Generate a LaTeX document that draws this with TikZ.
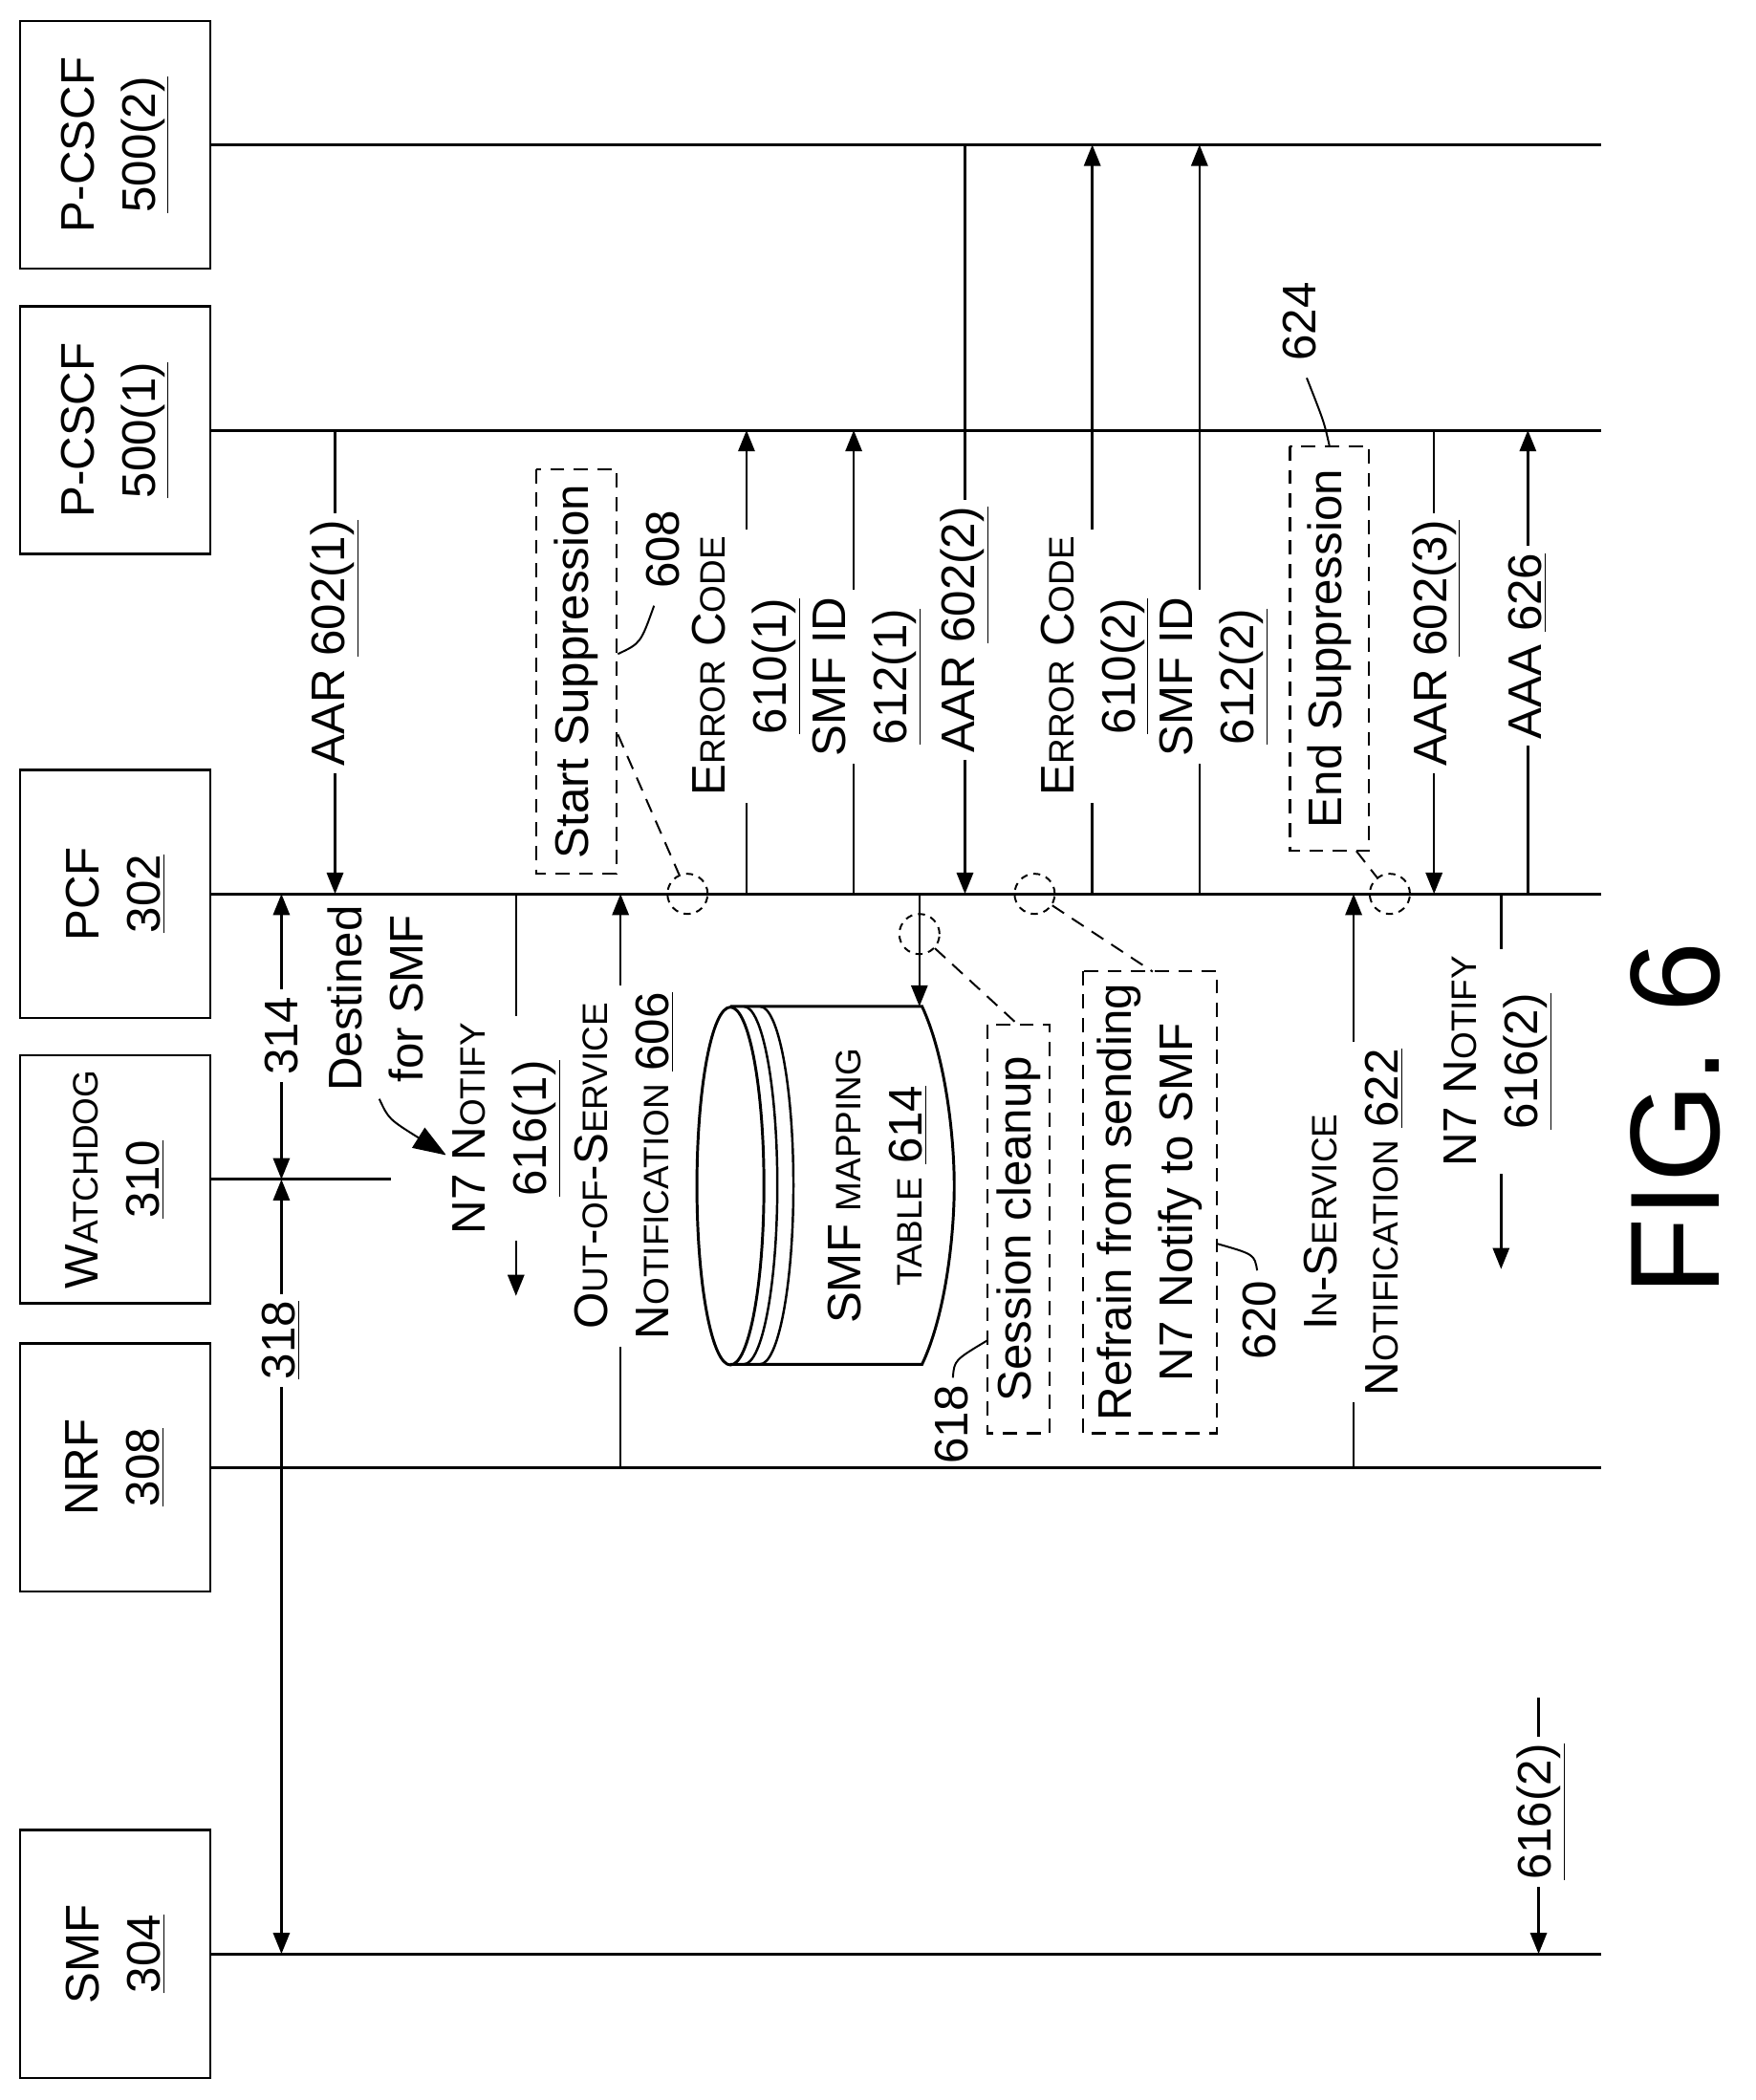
\documentclass[tikz,border=0pt]{standalone}
\usepackage{fontspec}
\setmainfont{Liberation Sans}
\usetikzlibrary{arrows.meta}
\newcommand{\scx}[1]{{\fontsize{15}{17}\selectfont #1}}
\newcommand{\ul}[1]{\underline{#1}}
\begin{document}
\begin{tikzpicture}[x=0.02cm,y=-0.02cm,
  every node/.style={font=\fontsize{20}{26}\selectfont,align=center},
  ent/.style={draw,line width=1pt,minimum width=3.7cm,minimum height=2.84cm,rotate=90},
  life/.style={line width=1.2pt},
  msg/.style={line width=1pt,-{Triangle[length=9pt,width=7pt]}},
  dmsg/.style={line width=1pt,{Triangle[length=9pt,width=7pt]}-{Triangle[length=9pt,width=7pt]}},
  lab/.style={rotate=90,fill=white,inner sep=3pt},
  dbox/.style={draw,dashed,dash pattern=on 6pt off 4pt,line width=0.9pt},
  dcirc/.style={draw,dashed,dash pattern=on 3pt off 2.5pt,line width=0.8pt,circle,minimum size=0.6cm,inner sep=0pt},
  lead/.style={line width=0.8pt}]
\useasboundingbox (0,0) rectangle (1310,1567);
% entities
\node[ent] (e1) at (86,108) {P-CSCF\\\ul{500(2)}};
\node[ent] (e2) at (86,321) {P-CSCF\\\ul{500(1)}};
\node[ent] (e3) at (86,667) {PCF\\\ul{302}};
\node[ent] (e4) at (86,880) {W\scx{ATCHDOG}\\\ul{310}};
\node[ent] (e5) at (86,1095) {NRF\\\ul{308}};
\node[ent] (e6) at (86,1458) {SMF\\\ul{304}};
\coordinate (l1) at (1195,108); \coordinate (l2) at (1195,321);
\coordinate (l3) at (1195,667); \coordinate (l4) at (292,880);
\coordinate (l5) at (1195,1095); \coordinate (l6) at (1195,1458);
\draw[life] (e1.south) -- (l1);
\draw[life] (e2.south) -- (l2);
\draw[life] (e3.south) -- (l3);
\draw[life] (e4.south) -- (l4);
\draw[life] (e5.south) -- (l5);
\draw[life] (e6.south) -- (l6);
% AAR 602(1)
\coordinate (a1s) at (250,321); \coordinate (a1e) at (250,667);
\draw[msg] (a1s) -- (a1e);
\node[lab] (t1) at (250,480) {AAR \ul{602(1)}};
% 314, 318
\coordinate (p314a) at (210,667); \coordinate (p314b) at (210,880);
\draw[dmsg] (p314a) -- (p314b);
\node[lab] (t314) at (210,773) {314};
\coordinate (p318a) at (210,880); \coordinate (p318b) at (210,1458);
\draw[dmsg] (p318a) -- (p318b);
\node[lab] (t318) at (210,1000) {\ul{318}};
% Destined
\node[rotate=90,inner sep=1pt] (dest) at (280,745) {Destined\\for SMF};
\coordinate (dArr) at (333,862);
\draw[lead,-{Triangle[length=14pt,width=10pt]}] (283,820) .. controls (290,835) .. (dArr);
% N7 Notify 616(1)
\coordinate (n1s) at (385,667); \coordinate (n1e) at (385,967);
\draw[msg] (n1s) -- (n1e);
\node[lab] (t616a) at (378,842) {N7 N\scx{OTIFY}\\\ul{616(1)}};
% OOS 606
\coordinate (o1s) at (463,1095); \coordinate (o1e) at (463,667);
\draw[msg] (o1s) -- (o1e);
\node[lab] (t606) at (466,870) {O\scx{UT}-\scx{OF}-S\scx{ERVICE}\\N\scx{OTIFICATION} \ul{606}};
% Start Suppression
\node[dbox,rotate=90,minimum width=6.04cm,minimum height=1.2cm] (ss) at (430,501) {Start Suppression};
\node[rotate=90] (t608) at (495,410) {608};
\draw[lead] (461,488) .. controls (478,480) .. (488,452);
\node[dcirc] (c1) at (513,667) {};
\draw[lead,dashed,dash pattern=on 6pt off 4pt] (461,548) -- (c1);
% Error code 610(1)
\coordinate (ec1s) at (557,667); \coordinate (ec1e) at (557,321);
\draw[msg] (ec1s) -- (ec1e);
\node[lab] (t610a) at (557,497) {E\scx{RROR} C\scx{ODE}\\\ul{610(1)}};
% SMF ID 612(1)
\coordinate (s1s) at (637,667); \coordinate (s1e) at (637,321);
\draw[msg] (s1s) -- (s1e);
\node[lab] (t612a) at (647,505) {SMF ID\\\ul{612(1)}};
% AAR 602(2)
\coordinate (a2s) at (720,108); \coordinate (a2e) at (720,667);
\draw[msg] (a2s) -- (a2e);
\node[lab] (t2) at (720,470) {AAR \ul{602(2)}};
% Error code 610(2)
\coordinate (ec2s) at (815,667); \coordinate (ec2e) at (815,108);
\draw[msg] (ec2s) -- (ec2e);
\node[lab] (t610b) at (817,497) {E\scx{RROR} C\scx{ODE}\\\ul{610(2)}};
% SMF ID 612(2)
\coordinate (s2s) at (895,667); \coordinate (s2e) at (895,108);
\draw[msg] (s2s) -- (s2e);
\node[lab] (t612b) at (906,505) {SMF ID\\\ul{612(2)}};
% End Suppression
\node[dbox,rotate=90,minimum width=6.04cm,minimum height=1.18cm] (es) at (992,484) {End Suppression};
\node[rotate=90] (t624) at (970,240) {624};
\draw[lead] (992,333) .. controls (988,315) .. (975,282);
\node[dcirc] (c2) at (1037,667) {};
\draw[lead,dashed,dash pattern=on 6pt off 4pt] (1012,635) -- (c2);
% AAR 602(3)
\coordinate (a3s) at (1070,321); \coordinate (a3e) at (1070,667);
\draw[msg] (a3s) -- (a3e);
\node[lab] (t3) at (1072,480) {AAR \ul{602(3)}};
% AAA 626
\coordinate (aas) at (1140,667); \coordinate (aae) at (1140,321);
\draw[msg] (aas) -- (aae);
\node[lab] (t626) at (1140,482) {AAA \ul{626}};
% cylinder
\draw[line width=1.2pt] (545,751) -- (688,751) .. controls (706,790) and (712,850) .. (712,885) .. controls (712,920) and (706,980) .. (688,1018) -- (545,1018);
\draw[line width=1.2pt] (545,885) ellipse [x radius=25, y radius=133.5];
\draw[line width=1pt] (555,751) arc[start angle=-90,end angle=90,x radius=25,y radius=133.5];
\draw[line width=1pt] (567,751) arc[start angle=-90,end angle=90,x radius=25,y radius=133.5];
\node[rotate=90,inner sep=0pt] (cyl) at (655,885) {SMF \scx{MAPPING}\\\scx{TABLE} \ul{614}};
\coordinate (ps) at (686,667); \coordinate (pe) at (686,751);
\draw[msg] (ps) -- (pe);
\node[dcirc] (c3) at (686,697) {};
% session cleanup
\node[dbox,rotate=90,minimum width=6.1cm,minimum height=0.92cm] (sc) at (760,917) {Session cleanup};
\draw[lead,dashed,dash pattern=on 6pt off 4pt] (c3) -- (760,765);
\node[rotate=90] (t618) at (710,1063) {618};
\draw[lead] (711,1028) .. controls (712,1015) .. (737,1000);
% refrain
\node[dbox,rotate=90,minimum width=6.9cm,minimum height=2cm] (rf) at (858,897) {Refrain from sending\\N7 Notify to SMF};
\node[dcirc] (c4) at (772,667) {};
\draw[lead,dashed,dash pattern=on 6pt off 4pt] (c4) -- (860,725);
\node[rotate=90] (t620) at (940,985) {620};
\draw[lead] (938,948) .. controls (936,936) .. (908,928);
% In-service 622
\coordinate (is) at (1010,1095); \coordinate (ie) at (1010,667);
\draw[msg] (is) -- (ie);
\node[lab] (t622) at (1010,912) {I\scx{N}-S\scx{ERVICE}\\N\scx{OTIFICATION} \ul{622}};
% N7 notify 616(2)
\coordinate (n2s) at (1120,667); \coordinate (n2e) at (1120,947);
\draw[msg] (n2s) -- (n2e);
\node[lab] (t616b) at (1118,792) {N7 N\scx{OTIFY}\\\ul{616(2)}};
% 616(2) near SMF
\coordinate (m2s) at (1148,1267); \coordinate (m2e) at (1148,1458);
\draw[msg] (m2s) -- (m2e);
\node[lab] (t616c) at (1150,1352) {\ul{616(2)}};
% fig
\node[rotate=90,font=\fontsize{54}{58}\selectfont] (fig) at (1250,835) {FIG. 6};
\end{tikzpicture}
\end{document}
